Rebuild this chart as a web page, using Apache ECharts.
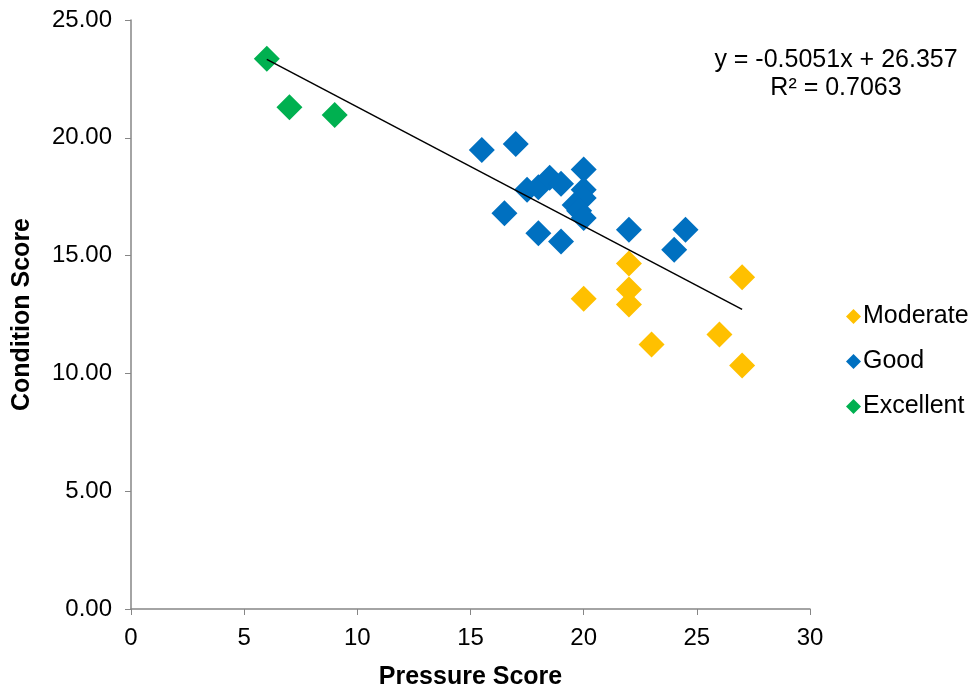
<!DOCTYPE html>
<html>
<head>
<meta charset="utf-8">
<script src="https://cdn.jsdelivr.net/npm/echarts@6/dist/echarts.min.js"></script>
<style>
  html, body { margin: 0; padding: 0; background: #fff; }
  #chart { width: 980px; height: 695px; }
</style>
</head>
<body>
<div id="chart"></div>
<script>
// [pressure, condition]
var moderate = [
    [22, 14.66], [27, 14.08], [20, 13.17], [22, 13.56], [22, 12.92],
    [26, 11.65], [23, 11.23], [27, 10.34]
];
var good = [
    [15.5, 19.48], [17, 19.74], [16.5, 16.8], [17.5, 17.8], [18, 17.9],
    [18.5, 18.3], [19, 18.05], [18, 15.95], [19, 15.6], [20, 18.65],
    [20, 17.8], [20, 17.45], [19.6, 17.15], [19.8, 16.9], [20, 16.6],
    [22, 16.1], [24.5, 16.1], [24, 15.25]
];
var excellent = [[6, 23.35], [7, 21.3], [9, 20.97]];
var trend = [[6, 23.33], [27, 12.72]];
var seriesNames = ['Moderate', 'Good', 'Excellent'];
var colors = ['#FFC000', '#0070C0', '#00B050'];
var eqText = ['y = -0.5051x + 26.357', 'R\u00B2 = 0.7063'];

var chart = echarts.init(document.getElementById('chart'));
var font = 'Liberation Sans, Arial, sans-serif';

var series = [moderate, good, excellent].map(function (d, i) {
    return {
        name: seriesNames[i],
        type: 'scatter',
        symbol: 'diamond',
        symbolSize: 26,
        itemStyle: { color: colors[i], opacity: 1 },
        data: d,
        z: 2
    };
});
// linear trendline, drawn over the markers
series.push({
    name: 'trend',
    type: 'line',
    data: trend,
    symbol: 'none',
    lineStyle: { color: '#000', width: 1.5 },
    z: 5,
    silent: true
});

var option = {
    animation: false,
    textStyle: { fontFamily: font },
    grid: { left: 131, right: 170, top: 20, bottom: 85 },
    legend: {
        data: seriesNames.map(function (n) { return { name: n, icon: 'diamond' }; }),
        orient: 'vertical',
        left: 841,
        top: 299,
        itemWidth: 15,
        itemHeight: 15,
        itemGap: 20,
        textStyle: { fontSize: 25, color: '#000', fontFamily: font, padding: [0, 0, 0, -3] }
    },
    xAxis: {
        type: 'value',
        min: 0, max: 30, interval: 5,
        name: 'Pressure Score',
        nameLocation: 'middle',
        nameGap: 56,
        nameTextStyle: { fontSize: 25, fontWeight: 'bold', color: '#000', fontFamily: font },
        axisLine: { show: true, lineStyle: { color: '#868686', width: 1.5 } },
        axisTick: { show: true, length: 6, lineStyle: { color: '#868686' } },
        axisLabel: { fontSize: 24, color: '#000', margin: 17 },
        splitLine: { show: false }
    },
    yAxis: {
        type: 'value',
        min: 0, max: 25, interval: 5,
        name: 'Condition Score',
        nameLocation: 'middle',
        nameGap: 96,
        nameTextStyle: { fontSize: 25, fontWeight: 'bold', color: '#000', fontFamily: font },
        axisLine: { show: true, lineStyle: { color: '#868686', width: 1.5 } },
        axisTick: { show: true, length: 6, lineStyle: { color: '#868686' } },
        axisLabel: {
            fontSize: 24, color: '#000', margin: 19,
            formatter: function (v) { return v.toFixed(2); }
        },
        splitLine: { show: false }
    },
    graphic: [{
        type: 'text',
        x: 836, y: 46,
        style: {
            text: eqText.join('\n'),
            align: 'center',
            lineHeight: 28,
            fontSize: 25,
            fontFamily: font,
            fill: '#000'
        }
    }],
    series: series
};
chart.setOption(option);
</script>
</body>
</html>
